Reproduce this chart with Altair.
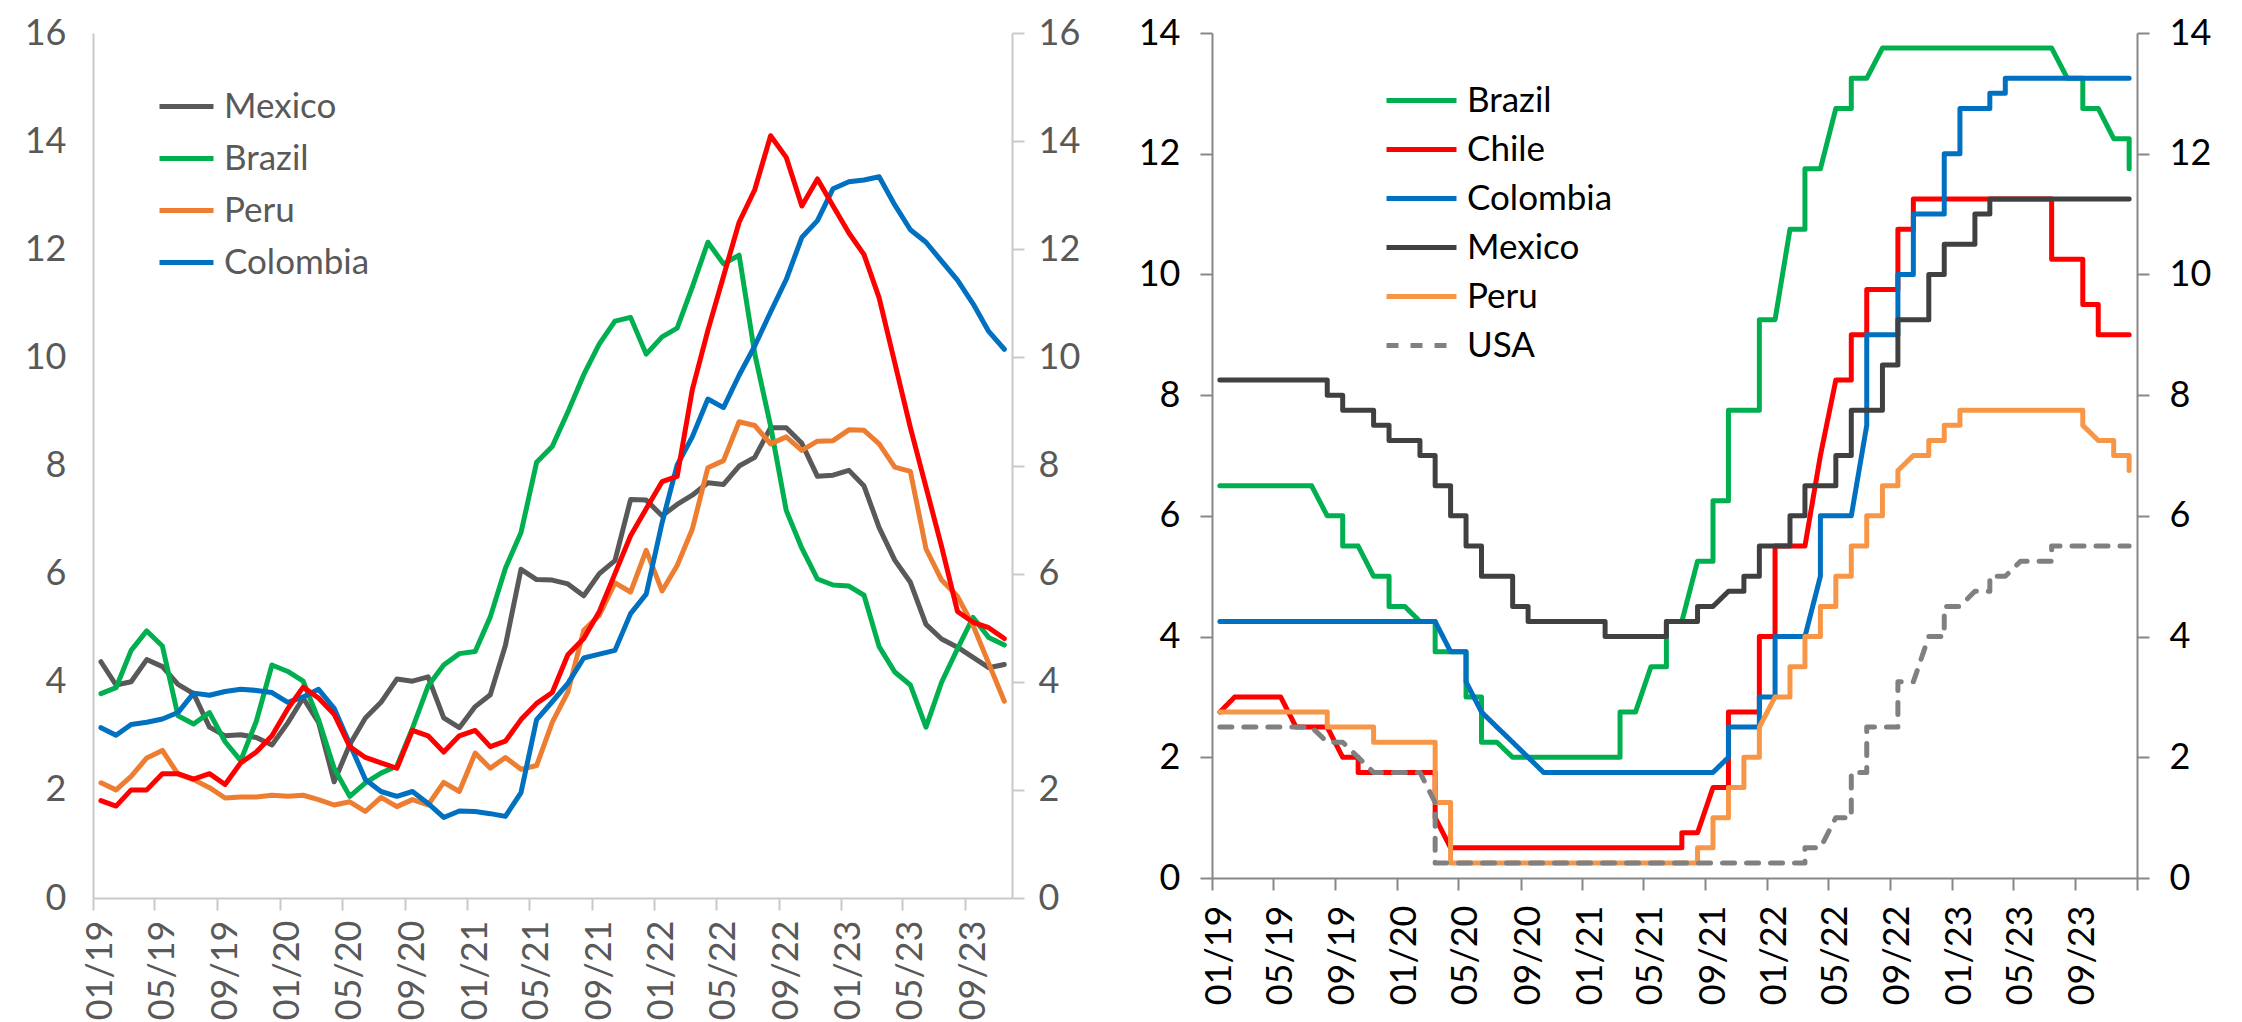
import altair as alt
import pandas as pd

# ---------------- Left panel: inflation (% y/y), monthly from 01/2019 to 11/2023 ----------------
cpi_first_month = "2019-01"
mexico_cpi = [4.37, 3.94, 4.00, 4.41, 4.28, 3.95, 3.78, 3.16, 3.00, 3.02, 2.97, 2.83,
              3.24, 3.70, 3.25, 2.15, 2.84, 3.33, 3.62, 4.05, 4.01, 4.09, 3.33, 3.15,
              3.54, 3.76, 4.67, 6.08, 5.89, 5.88, 5.81, 5.59, 6.00, 6.24, 7.37, 7.36,
              7.07, 7.28, 7.45, 7.68, 7.65, 7.99, 8.15, 8.70, 8.70, 8.41, 7.80, 7.82,
              7.91, 7.62, 6.85, 6.25, 5.84, 5.06, 4.79, 4.64, 4.45, 4.26, 4.32]
brazil_cpi = [3.78, 3.89, 4.58, 4.94, 4.66, 3.37, 3.22, 3.43, 2.89, 2.54, 3.27, 4.31,
              4.19, 4.01, 3.30, 2.40, 1.88, 2.13, 2.31, 2.44, 3.14, 3.92, 4.31, 4.52,
              4.56, 5.20, 6.10, 6.76, 8.06, 8.35, 8.99, 9.68, 10.25, 10.67, 10.74, 10.06,
              10.38, 10.54, 11.30, 12.13, 11.73, 11.89, 10.07, 8.73, 7.17, 6.47, 5.90, 5.79,
              5.77, 5.60, 4.65, 4.18, 3.94, 3.16, 3.99, 4.61, 5.19, 4.82, 4.68]
peru_cpi = [2.13, 2.00, 2.25, 2.59, 2.73, 2.29, 2.19, 2.04, 1.85, 1.87, 1.87, 1.90,
            1.88, 1.90, 1.82, 1.72, 1.78, 1.60, 1.86, 1.69, 1.82, 1.72, 2.14, 1.97,
            2.68, 2.40, 2.60, 2.38, 2.45, 3.25, 3.81, 4.95, 5.23, 5.83, 5.66, 6.43,
            5.68, 6.15, 6.82, 7.96, 8.09, 8.81, 8.74, 8.40, 8.53, 8.28, 8.45, 8.46,
            8.66, 8.65, 8.40, 7.97, 7.89, 6.46, 5.88, 5.58, 5.04, 4.34, 3.64]
colombia_cpi = [3.15, 3.01, 3.21, 3.25, 3.31, 3.43, 3.79, 3.75, 3.82, 3.86, 3.84, 3.80,
                3.62, 3.72, 3.86, 3.51, 2.85, 2.19, 1.97, 1.88, 1.97, 1.75, 1.49, 1.61,
                1.60, 1.56, 1.51, 1.95, 3.30, 3.63, 3.97, 4.44, 4.51, 4.58, 5.26, 5.62,
                6.94, 8.01, 8.53, 9.23, 9.07, 9.67, 10.21, 10.84, 11.44, 12.22, 12.53, 13.12,
                13.25, 13.28, 13.34, 12.82, 12.36, 12.13, 11.78, 11.43, 10.99, 10.48, 10.15]
chile_cpi = [1.8, 1.7, 2.0, 2.0, 2.3, 2.3, 2.2, 2.3, 2.1, 2.5, 2.7, 3.0,
             3.5, 3.9, 3.7, 3.4, 2.8, 2.6, 2.5, 2.4, 3.1, 3.0, 2.7, 3.0,
             3.1, 2.8, 2.9, 3.3, 3.6, 3.8, 4.5, 4.8, 5.3, 6.0, 6.7, 7.2,
             7.7, 7.8, 9.4, 10.5, 11.5, 12.5, 13.1, 14.1, 13.7, 12.8, 13.3, 12.8,
             12.3, 11.9, 11.1, 9.9, 8.7, 7.6, 6.5, 5.3, 5.1, 5.0, 4.8]
left_series = ["Mexico", "Brazil", "Peru", "Colombia"]
left_tick_months = ["2019-01", "2019-05", "2019-09", "2020-01", "2020-05", "2020-09",
                    "2021-01", "2021-05", "2021-09", "2022-01", "2022-05", "2022-09",
                    "2023-01", "2023-05", "2023-09"]
left_y_ticks = [0, 2, 4, 6, 8, 10, 12, 14, 16]

# ---------------- Right panel: policy rates (%), vertices (month, rate) ----------------
brazil_rate = [("2019-01", 6.5), ("2019-07", 6.5), ("2019-08", 6.0), ("2019-09", 6.0), ("2019-09", 5.5),
               ("2019-10", 5.5), ("2019-11", 5.0), ("2019-12", 5.0), ("2019-12", 4.5), ("2020-01", 4.5),
               ("2020-02", 4.25), ("2020-03", 4.25), ("2020-03", 3.75), ("2020-05", 3.75), ("2020-05", 3.0),
               ("2020-06", 3.0), ("2020-06", 2.25), ("2020-07", 2.25), ("2020-08", 2.0), ("2021-03", 2.0),
               ("2021-03", 2.75), ("2021-04", 2.75), ("2021-05", 3.5), ("2021-06", 3.5), ("2021-06", 4.25),
               ("2021-07", 4.25), ("2021-08", 5.25), ("2021-09", 5.25), ("2021-09", 6.25), ("2021-10", 6.25),
               ("2021-10", 7.75), ("2021-12", 7.75), ("2021-12", 9.25), ("2022-01", 9.25), ("2022-02", 10.75),
               ("2022-03", 10.75), ("2022-03", 11.75), ("2022-04", 11.75), ("2022-05", 12.75), ("2022-06", 12.75),
               ("2022-06", 13.25), ("2022-07", 13.25), ("2022-08", 13.75), ("2023-07", 13.75), ("2023-08", 13.25),
               ("2023-09", 13.25), ("2023-09", 12.75), ("2023-10", 12.75), ("2023-11", 12.25), ("2023-12", 12.25),
               ("2023-12", 11.75)]
chile_rate = [("2019-01", 2.75), ("2019-02", 3.0), ("2019-05", 3.0), ("2019-06", 2.5), ("2019-08", 2.5),
              ("2019-09", 2.0), ("2019-10", 2.0), ("2019-10", 1.75), ("2020-03", 1.75), ("2020-03", 1.0),
              ("2020-04", 0.5), ("2021-07", 0.5), ("2021-07", 0.75), ("2021-08", 0.75), ("2021-09", 1.5),
              ("2021-10", 1.5), ("2021-10", 2.75), ("2021-12", 2.75), ("2021-12", 4.0), ("2022-01", 4.0),
              ("2022-01", 5.5), ("2022-03", 5.5), ("2022-04", 7.0), ("2022-05", 8.25), ("2022-06", 8.25),
              ("2022-06", 9.0), ("2022-07", 9.0), ("2022-07", 9.75), ("2022-09", 9.75), ("2022-09", 10.75),
              ("2022-10", 10.75), ("2022-10", 11.25), ("2023-07", 11.25), ("2023-07", 10.25), ("2023-09", 10.25),
              ("2023-09", 9.5), ("2023-10", 9.5), ("2023-10", 9.0), ("2023-12", 9.0)]
colombia_rate = [("2019-01", 4.25), ("2020-03", 4.25), ("2020-04", 3.75), ("2020-05", 3.75), ("2020-05", 3.25),
                 ("2020-06", 2.75), ("2020-07", 2.5), ("2020-08", 2.25), ("2020-09", 2.0), ("2020-10", 1.75),
                 ("2021-09", 1.75), ("2021-10", 2.0), ("2021-10", 2.5), ("2021-12", 2.5), ("2021-12", 3.0),
                 ("2022-01", 3.0), ("2022-01", 4.0), ("2022-03", 4.0), ("2022-04", 5.0), ("2022-04", 6.0),
                 ("2022-06", 6.0), ("2022-07", 7.5), ("2022-07", 9.0), ("2022-09", 9.0), ("2022-09", 10.0),
                 ("2022-10", 10.0), ("2022-10", 11.0), ("2022-12", 11.0), ("2022-12", 12.0), ("2023-01", 12.0),
                 ("2023-01", 12.75), ("2023-03", 12.75), ("2023-03", 13.0), ("2023-04", 13.0), ("2023-04", 13.25),
                 ("2023-12", 13.25)]
mexico_rate = [("2019-01", 8.25), ("2019-08", 8.25), ("2019-08", 8.0), ("2019-09", 8.0), ("2019-09", 7.75),
               ("2019-11", 7.75), ("2019-11", 7.5), ("2019-12", 7.5), ("2019-12", 7.25), ("2020-02", 7.25),
               ("2020-02", 7.0), ("2020-03", 7.0), ("2020-03", 6.5), ("2020-04", 6.5), ("2020-04", 6.0),
               ("2020-05", 6.0), ("2020-05", 5.5), ("2020-06", 5.5), ("2020-06", 5.0), ("2020-08", 5.0),
               ("2020-08", 4.5), ("2020-09", 4.5), ("2020-09", 4.25), ("2021-02", 4.25), ("2021-02", 4.0),
               ("2021-06", 4.0), ("2021-06", 4.25), ("2021-08", 4.25), ("2021-08", 4.5), ("2021-09", 4.5),
               ("2021-10", 4.75), ("2021-11", 4.75), ("2021-11", 5.0), ("2021-12", 5.0), ("2021-12", 5.5),
               ("2022-02", 5.5), ("2022-02", 6.0), ("2022-03", 6.0), ("2022-03", 6.5), ("2022-05", 6.5),
               ("2022-05", 7.0), ("2022-06", 7.0), ("2022-06", 7.75), ("2022-08", 7.75), ("2022-08", 8.5),
               ("2022-09", 8.5), ("2022-09", 9.25), ("2022-11", 9.25), ("2022-11", 10.0), ("2022-12", 10.0),
               ("2022-12", 10.5), ("2023-02", 10.5), ("2023-02", 11.0), ("2023-03", 11.0), ("2023-03", 11.25),
               ("2023-12", 11.25)]
peru_rate = [("2019-01", 2.75), ("2019-08", 2.75), ("2019-08", 2.5), ("2019-11", 2.5), ("2019-11", 2.25),
             ("2020-03", 2.25), ("2020-03", 1.25), ("2020-04", 1.25), ("2020-04", 0.25), ("2021-08", 0.25),
             ("2021-08", 0.5), ("2021-09", 0.5), ("2021-09", 1.0), ("2021-10", 1.0), ("2021-10", 1.5),
             ("2021-11", 1.5), ("2021-11", 2.0), ("2021-12", 2.0), ("2021-12", 2.5), ("2022-01", 3.0),
             ("2022-02", 3.0), ("2022-02", 3.5), ("2022-03", 3.5), ("2022-03", 4.0), ("2022-04", 4.0),
             ("2022-04", 4.5), ("2022-05", 4.5), ("2022-05", 5.0), ("2022-06", 5.0), ("2022-06", 5.5),
             ("2022-07", 5.5), ("2022-07", 6.0), ("2022-08", 6.0), ("2022-08", 6.5), ("2022-09", 6.5),
             ("2022-09", 6.75), ("2022-10", 7.0), ("2022-11", 7.0), ("2022-11", 7.25), ("2022-12", 7.25),
             ("2022-12", 7.5), ("2023-01", 7.5), ("2023-01", 7.75), ("2023-09", 7.75), ("2023-09", 7.5),
             ("2023-10", 7.25), ("2023-11", 7.25), ("2023-11", 7.0), ("2023-12", 7.0), ("2023-12", 6.75)]
usa_rate = [("2019-01", 2.5), ("2019-07", 2.5), ("2019-08", 2.25), ("2019-09", 2.25), ("2019-10", 2.0),
            ("2019-11", 1.75), ("2020-02", 1.75), ("2020-03", 1.25), ("2020-03", 0.25), ("2022-03", 0.25),
            ("2022-03", 0.5), ("2022-04", 0.5), ("2022-05", 1.0), ("2022-06", 1.0), ("2022-06", 1.75),
            ("2022-07", 1.75), ("2022-07", 2.5), ("2022-09", 2.5), ("2022-09", 3.25), ("2022-10", 3.25),
            ("2022-11", 4.0), ("2022-12", 4.0), ("2022-12", 4.5), ("2023-01", 4.5), ("2023-02", 4.75),
            ("2023-03", 4.75), ("2023-03", 5.0), ("2023-04", 5.0), ("2023-05", 5.25), ("2023-07", 5.25),
            ("2023-07", 5.5), ("2023-12", 5.5)]
right_series = ["Brazil", "Chile", "Colombia", "Mexico", "Peru", "USA"]
right_tick_months = left_tick_months + ["2024-01"]
right_y_ticks = [0, 2, 4, 6, 8, 10, 12, 14]

# ---------------- styles ----------------
left_colors = ["#595959", "#00B050", "#ED7D31", "#0070C0"]
chile_color = "#FF0000"
right_colors = ["#00B050", "#FF0000", "#0070C0", "#404040", "#F79646", "#808080"]
right_dashes = [[1, 0], [1, 0], [1, 0], [1, 0], [1, 0], [12, 12]]
LEFT_AX = "#C9C9C9"
LEFT_TXT = "#595959"
RIGHT_AX = "#878787"
FONT = "Lato"
FS = 36


def ms(ts):
    return int(pd.Timestamp(ts).value // 10**6)


def mid_month(m):
    start = pd.Timestamp(m + "-01") if isinstance(m, str) else pd.Timestamp(m)
    end = start + pd.offsets.MonthBegin(1)
    return ms(start + (end - start) / 2)


# ---------------- tables ----------------
cpi_months = pd.date_range(cpi_first_month + "-01", periods=len(mexico_cpi), freq="MS")
left_rows = []
for name, vals in zip(left_series, [mexico_cpi, brazil_cpi, peru_cpi, colombia_cpi]):
    for m, v in zip(cpi_months, vals):
        left_rows.append({"country": name, "t": mid_month(m), "v": v})
left_df = pd.DataFrame(left_rows)
chile_df = pd.DataFrame({"t": [mid_month(m) for m in cpi_months], "v": chile_cpi})

right_rows = []
for name, verts in zip(right_series, [brazil_rate, chile_rate, colombia_rate, mexico_rate, peru_rate, usa_rate]):
    for i, (m, v) in enumerate(verts):
        right_rows.append({"series": name, "idx": i, "t": mid_month(m), "v": v})
right_df = pd.DataFrame(right_rows)

# ---------------- left panel ----------------
x_left = alt.X(
    "t:T", title=None,
    scale=alt.Scale(type="utc", domain=[ms("2019-01-01"), ms("2023-12-01")]),
    axis=alt.Axis(values=[ms(m + "-01") for m in left_tick_months],
                  labelExpr="utcFormat(datum.value, '%m/%y')",
                  labelAngle=270, labelOffset=7.8, labelFlush=False, labelOverlap=False,
                  tickSize=12, tickWidth=2, tickColor=LEFT_AX, domainColor=LEFT_AX, domainWidth=2,
                  labelPadding=10, labelFontSize=FS, labelColor=LEFT_TXT, labelFont=FONT, grid=False),
)
y_left_scale = alt.Scale(domain=[0, 16], nice=False)
left_legend = alt.Legend(title=None, orient="none", legendX=64, legendY=56, symbolType="stroke",
                         symbolSize=2916, symbolStrokeWidth=5, labelFontSize=35, labelColor=LEFT_TXT,
                         labelFont=FONT, clipHeight=35, rowPadding=16, labelOffset=8, labelLimit=400,
                         padding=0)

left_lines = alt.Chart(left_df).mark_line(strokeWidth=5, strokeJoin="round", strokeCap="round").encode(
    x=x_left,
    y=alt.Y("v:Q", title=None, scale=y_left_scale,
            axis=alt.Axis(orient="left", values=left_y_ticks, ticks=False, tickSize=0, labelPadding=27,
                          domainColor=LEFT_AX, domainWidth=2, labelFontSize=FS, labelColor=LEFT_TXT,
                          labelFont=FONT, grid=False)),
    color=alt.Color("country:N", scale=alt.Scale(domain=left_series, range=left_colors), legend=left_legend),
)
chile_line = alt.Chart(chile_df).mark_line(strokeWidth=5, strokeJoin="round", strokeCap="round",
                                           color=chile_color).encode(
    x=x_left,
    y=alt.Y("v:Q", title=None, scale=y_left_scale,
            axis=alt.Axis(orient="right", values=left_y_ticks, tickSize=12, tickWidth=2, tickColor=LEFT_AX,
                          labelPadding=14, domainColor=LEFT_AX, domainWidth=2, labelFontSize=FS,
                          labelColor=LEFT_TXT, labelFont=FONT, grid=False)),
)
left = alt.layer(left_lines, chile_line).resolve_scale(y="independent").properties(width=919, height=865)

# ---------------- right panel ----------------
x_right = alt.X(
    "t:T", title=None,
    scale=alt.Scale(type="utc", domain=[ms("2019-01-01"), ms("2024-01-01")]),
    axis=alt.Axis(values=[ms(m + "-01") for m in right_tick_months],
                  labelExpr="utcyear(datum.value) >= 2024 ? '' : utcFormat(datum.value, '%m/%y')",
                  labelAngle=270, labelOffset=7.7, labelFlush=False, labelOverlap=False,
                  tickSize=12, tickWidth=2, tickColor=RIGHT_AX, domainColor=RIGHT_AX, domainWidth=2,
                  labelPadding=15, labelFontSize=FS, labelColor="#000000", labelFont=FONT, grid=False),
)
y_right_scale = alt.Scale(domain=[0, 14], nice=False)
right_legend = alt.Legend(title=None, orient="none", legendX=172, legendY=50, symbolType="stroke",
                          symbolSize=4900, symbolStrokeWidth=5, labelFontSize=35, labelColor="#000000",
                          labelFont=FONT, clipHeight=35, rowPadding=13, labelOffset=8, labelLimit=400,
                          padding=0)

rates = alt.Chart(right_df).mark_line(strokeWidth=5, strokeJoin="round", strokeCap="round").encode(
    x=x_right,
    y=alt.Y("v:Q", title=None, scale=y_right_scale,
            axis=alt.Axis(orient="left", values=right_y_ticks, tickSize=12, tickWidth=2, tickColor=RIGHT_AX,
                          labelPadding=20, domainColor=RIGHT_AX, domainWidth=2, labelFontSize=FS,
                          labelColor="#000000", labelFont=FONT, grid=False)),
    color=alt.Color("series:N", scale=alt.Scale(domain=right_series, range=right_colors), legend=right_legend),
    strokeDash=alt.StrokeDash("series:N", scale=alt.Scale(domain=right_series, range=right_dashes),
                              legend=right_legend),
    order=alt.Order("idx:Q"),
)
right_axis_layer = alt.Chart(right_df).mark_point(opacity=0).encode(
    x=x_right,
    y=alt.Y("v:Q", title=None, scale=y_right_scale,
            axis=alt.Axis(orient="right", values=right_y_ticks, tickSize=12, tickWidth=2, tickColor=RIGHT_AX,
                          labelPadding=20, domainColor=RIGHT_AX, domainWidth=2, labelFontSize=FS,
                          labelColor="#000000", labelFont=FONT, grid=False)),
)
right = alt.layer(rates, right_axis_layer).resolve_scale(y="independent").properties(width=925, height=845)

chart = (
    alt.hconcat(left, right, spacing=58,
                padding={"left": 16, "top": 7, "right": 5, "bottom": 0})
    .resolve_scale(x="independent", y="independent", color="independent", strokeDash="independent")
    .resolve_legend(color="independent", strokeDash="independent")
    .configure(font=FONT)
    .configure_view(strokeWidth=0)
)

chart.save("out.html", embed_options={"renderer": "svg", "actions": False})
